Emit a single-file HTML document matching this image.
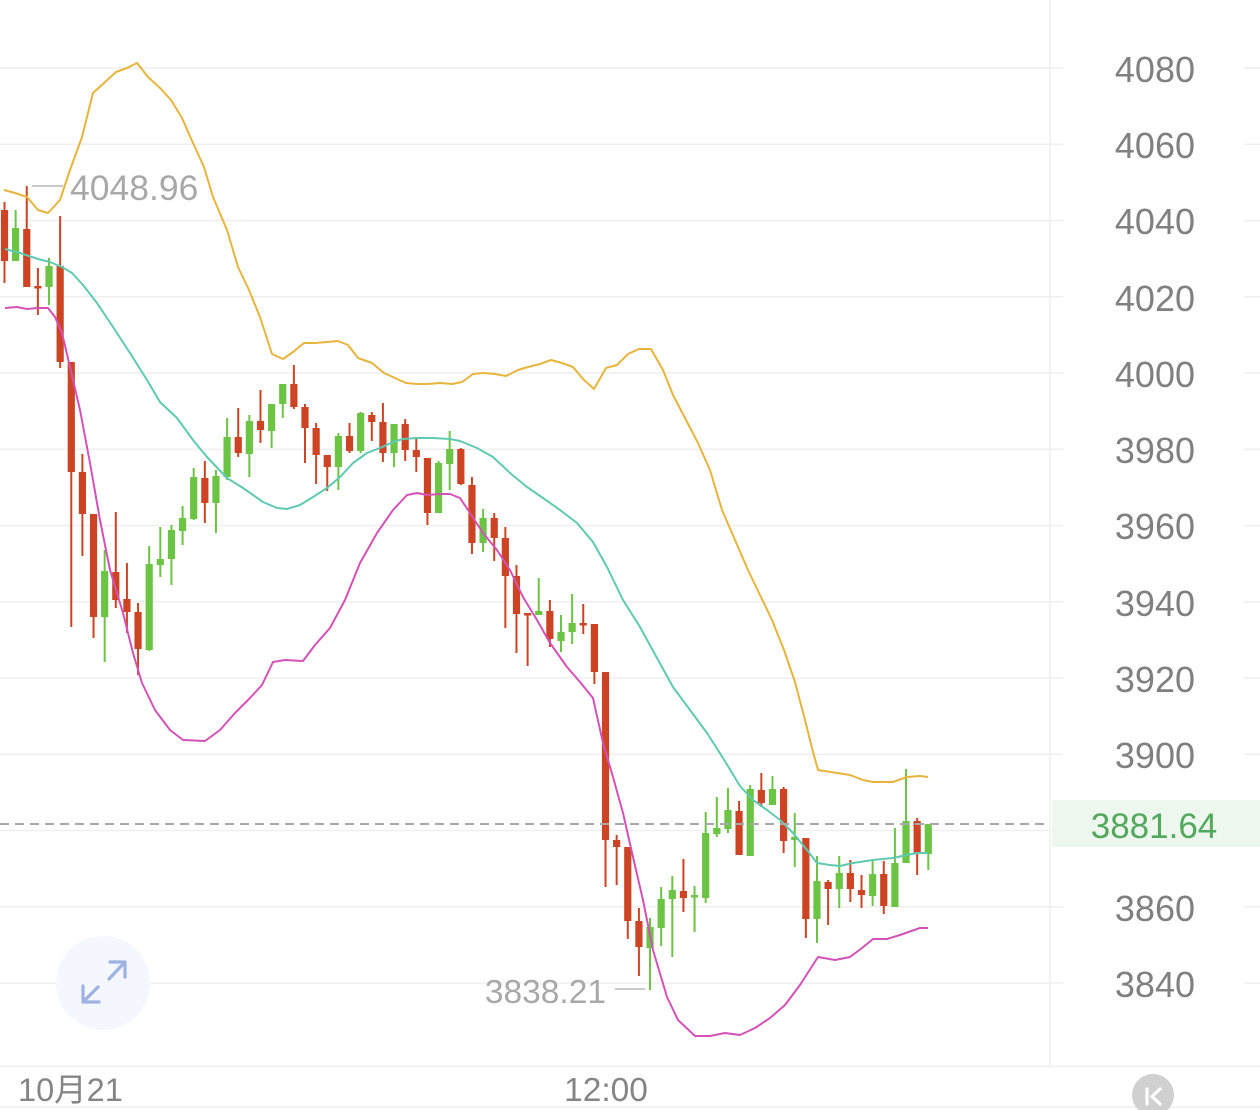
<!DOCTYPE html>
<html><head><meta charset="utf-8"><style>
html,body{margin:0;padding:0;background:#fff;}
svg{display:block;}
text{font-family:"Liberation Sans","Noto Sans CJK SC",sans-serif;}
</style></head><body>
<svg width="1260" height="1110" viewBox="0 0 1260 1110" xmlns="http://www.w3.org/2000/svg">
<rect width="1260" height="1110" fill="#fff"/>
<!-- grid -->
<g stroke="#efefef" stroke-width="1.5">
<path d="M0 68H1063M1244 68H1260M0 144.25H1063M1244 144.25H1260M0 220.5H1063M1244 220.5H1260M0 296.75H1063M1244 296.75H1260M0 373H1063M1244 373H1260M0 449.25H1063M1244 449.25H1260M0 525.5H1063M1244 525.5H1260M0 601.75H1063M1244 601.75H1260M0 678H1063M1244 678H1260M0 754.25H1063M1244 754.25H1260M0 830.5H1050M0 906.75H1063M1244 906.75H1260M0 983H1063M1244 983H1260"/>
<path d="M1050 0V1066M0 1066.5H1260M0 1107H1260"/>
</g>
<!-- expand icon -->
<circle cx="103" cy="983" r="47" fill="#f4f7fd"/>
<g stroke="#9db2e2" stroke-width="3.2" fill="none" stroke-linecap="round" stroke-linejoin="round">
<path d="M110 962H125V977M124 963L109 979"/>
<path d="M83 986V1002H99M84 1001L98 987"/>
</g>
<!-- candles red -->
<g stroke="#cc4424" fill="none">
<path stroke-width="2" d="M4.5 202V283M26.76 186V287M37.89 268V315M60.15 216V368M71.28 362V627M82.41 454V556M93.54 514V638M115.8 512V608M126.93 563V633M138.06 603V675M204.84 461V523M238.23 408V457M260.49 390V443M293.88 365V409M305.01 404V463M316.14 423V484M327.27 455V491M349.53 423V453M371.79 412V441M382.92 403V462M405.18 419V461M416.31 437V472M427.44 458V525M460.83 448V485M471.96 477V554M494.22 513V561M505.35 527V628M516.48 565V653M527.61 613V666M549.87 600V647M583.26 604V634M594.39 624V684M605.52 672V887M616.65 835V885M627.78 847V939M638.91 908V976M683.43 859V912M739.08 801V855M761.34 773V807M783.6 787V853M805.86 838V938M828.12 880V925M850.38 860V902M861.51 875V908M883.77 861V914M917.16 818V875"/>
<path stroke-width="7.2" d="M4.5 210V261M26.76 229V287M37.89 286V288.5M60.15 266V362M71.28 362V472M82.41 472V514M93.54 514V617M115.8 572V600M126.93 599V612M138.06 612V649M204.84 478V503M238.23 437V453M260.49 421V430M293.88 384V407M305.01 407V428M316.14 428V455M327.27 455V467M349.53 436V451M371.79 415V422M382.92 422V453M405.18 424V450M416.31 450V457M427.44 458V513M460.83 449V484M471.96 485V543M494.22 518V538M505.35 538V576M516.48 576V614M527.61 613V615.5M549.87 611V639M583.26 623V625.5M594.39 624V672M605.52 672V840M616.65 840V847M627.78 847V921M638.91 921V947M683.43 891V898M739.08 811V855M761.34 790V803M783.6 789V841M805.86 838V919M828.12 882V889M850.38 873V889M861.51 890V895M883.77 874V906M917.16 821V854"/>
</g>
<!-- candles green -->
<g stroke="#6cc444" fill="none">
<path stroke-width="2" d="M15.63 210V261M49.02 258V305M104.67 550V662M149.19 546V651M160.32 527V577M171.45 525V585M182.58 506V545M193.71 468V520M215.97 470V533M227.1 418V480M249.36 415V477M271.62 404V448M282.75 384V418M338.4 433V490M360.66 412V453M394.05 424V467M438.57 461V513M449.7 431V490M483.09 509V552M538.74 578V615M561 615V652M572.13 594V644M650.04 918V990M661.17 887V946M672.3 876V957M694.56 886V932M705.69 812V903M716.82 797V837M727.95 788V833M750.21 785V856M772.47 776V805M794.73 813V867M816.99 856V943M839.25 856V908M872.64 860V906M894.9 828V907M906.03 769V863M928.29 824V870"/>
<path stroke-width="7.2" d="M15.63 228V261M49.02 266V287M104.67 571V617M149.19 564V650M160.32 559V565M171.45 530V559M182.58 518V531M193.71 477V519M215.97 476V503M227.1 437V477M249.36 421V454M271.62 404V431M282.75 384V404M338.4 436V467M360.66 413V451M394.05 424V453M438.57 463V513M449.7 449V464M483.09 518V543M538.74 611V615M561 632V641M572.13 623V632M650.04 927V948M661.17 899V928M672.3 890V899M694.56 895V897.5M705.69 833V898M716.82 828V834M727.95 810V829M750.21 789V856M772.47 789V805M794.73 837V840M816.99 881V919M839.25 873V889M872.64 874V896M894.9 863V907M906.03 821V863M928.29 824V854"/>
</g>
<!-- bollinger -->
<g fill="none" stroke-width="2" stroke-linejoin="round">
<polyline stroke="#e8b43c" points="4,190 15,193 27,197 38,210 48,213 60,200 70,170 82,137 93,93 104,83 116,72 127,68 137,63 148,77 160,88 171,100 182,118 193,143 204,167 213,197 227,230 238,267 249,290 260,317 272,354 283,359 293,352 304,343 315,343 327,342 338,341 348,345 358,358 372,363 384,373 395,378 406,383 417,384 428,384 440,383 452,384 462,382 473,374 483,373 495,374 506,376 518,370 528,367 540,364 551,360 562,363 573,367 583,379 594,389 606,368 617,365 628,354 639,349 651,349 663,370 673,395 685,418 698,443 710,470 722,510 735,540 748,570 760,595 772,620 784,650 795,682 805,720 812,748 818,770 837,773 850,775 863,780 873,782 893,782 907,777 920,776 928,777"/>
<polyline stroke="#5ecab2" points="5,249 20,253 38,259 50,262 62,267 72,273 83,285 97,303 113,327 130,353 147,380 160,402 177,418 193,440 207,457 227,478 243,488 263,502 277,508 287,509 300,505 313,497 327,488 340,477 353,463 367,453 380,448 393,442 403,439 417,438 433,438 450,439 460,441 477,448 493,457 510,473 527,487 543,498 560,510 577,523 593,542 607,567 623,600 640,627 657,658 673,687 690,710 707,733 723,758 740,786 753,800 767,810 780,820 793,833 807,850 817,863 830,865 840,866 853,863 873,860 893,858 907,855 917,853 928,853"/>
<polyline stroke="#d452b8" points="5,308 17,307 27,309 37,308 48,308 55,317 62,333 70,367 80,410 90,463 100,520 110,570 123,613 133,653 142,683 155,710 170,730 183,740 205,741 220,730 235,713 250,698 262,685 273,662 285,660 303,661 315,645 330,628 345,600 360,563 377,533 393,510 407,495 417,493 427,495 440,494 450,494 460,498 470,513 483,533 497,550 510,570 523,597 537,620 550,643 567,667 580,682 593,698 603,743 613,777 623,813 633,857 643,900 653,950 667,997 678,1020 695,1036 710,1036 725,1033 740,1035 755,1028 770,1018 785,1005 800,985 818,957 835,960 850,957 862,948 873,939 887,939 900,935 920,928 928,928"/>
</g>
<!-- current price dashed -->
<path d="M0 824H1050" stroke="#a8a8a8" stroke-width="2" stroke-dasharray="9 6"/>
<rect x="1052" y="800" width="208" height="47" fill="#edf7ee"/>
<text x="1154" y="838" font-size="35" fill="#52a85c" text-anchor="middle">3881.64</text>
<!-- high/low markers -->
<path d="M32 186H63M615 989H645" stroke="#b8b8b8" stroke-width="1.5"/>
<text x="70" y="200" font-size="35.5" fill="#a8a8a8">4048.96</text>
<text x="606" y="1003" font-size="33.5" fill="#a8a8a8" text-anchor="end">3838.21</text>
<!-- y axis labels -->
<g font-size="36" fill="#808080" text-anchor="end">
<text x="1195" y="82">4080</text>
<text x="1195" y="158">4060</text>
<text x="1195" y="234">4040</text>
<text x="1195" y="311">4020</text>
<text x="1195" y="387">4000</text>
<text x="1195" y="463">3980</text>
<text x="1195" y="539">3960</text>
<text x="1195" y="616">3940</text>
<text x="1195" y="692">3920</text>
<text x="1195" y="768">3900</text>
<text x="1195" y="921">3860</text>
<text x="1195" y="997">3840</text>
</g>
<!-- x axis labels -->
<text x="18" y="1101" font-size="32.5" fill="#858585">10月21</text>
<text x="606" y="1101" font-size="33.5" fill="#858585" text-anchor="middle">12:00</text>
<!-- K icon -->
<circle cx="1153" cy="1095" r="21" fill="#d0d0d0"/>
<g stroke="#fff" stroke-width="3.2" fill="none" stroke-linecap="round" stroke-linejoin="round">
<path d="M1147 1089V1104M1160 1089L1152 1096.5L1160 1104"/>
</g>
</svg>
</body></html>
